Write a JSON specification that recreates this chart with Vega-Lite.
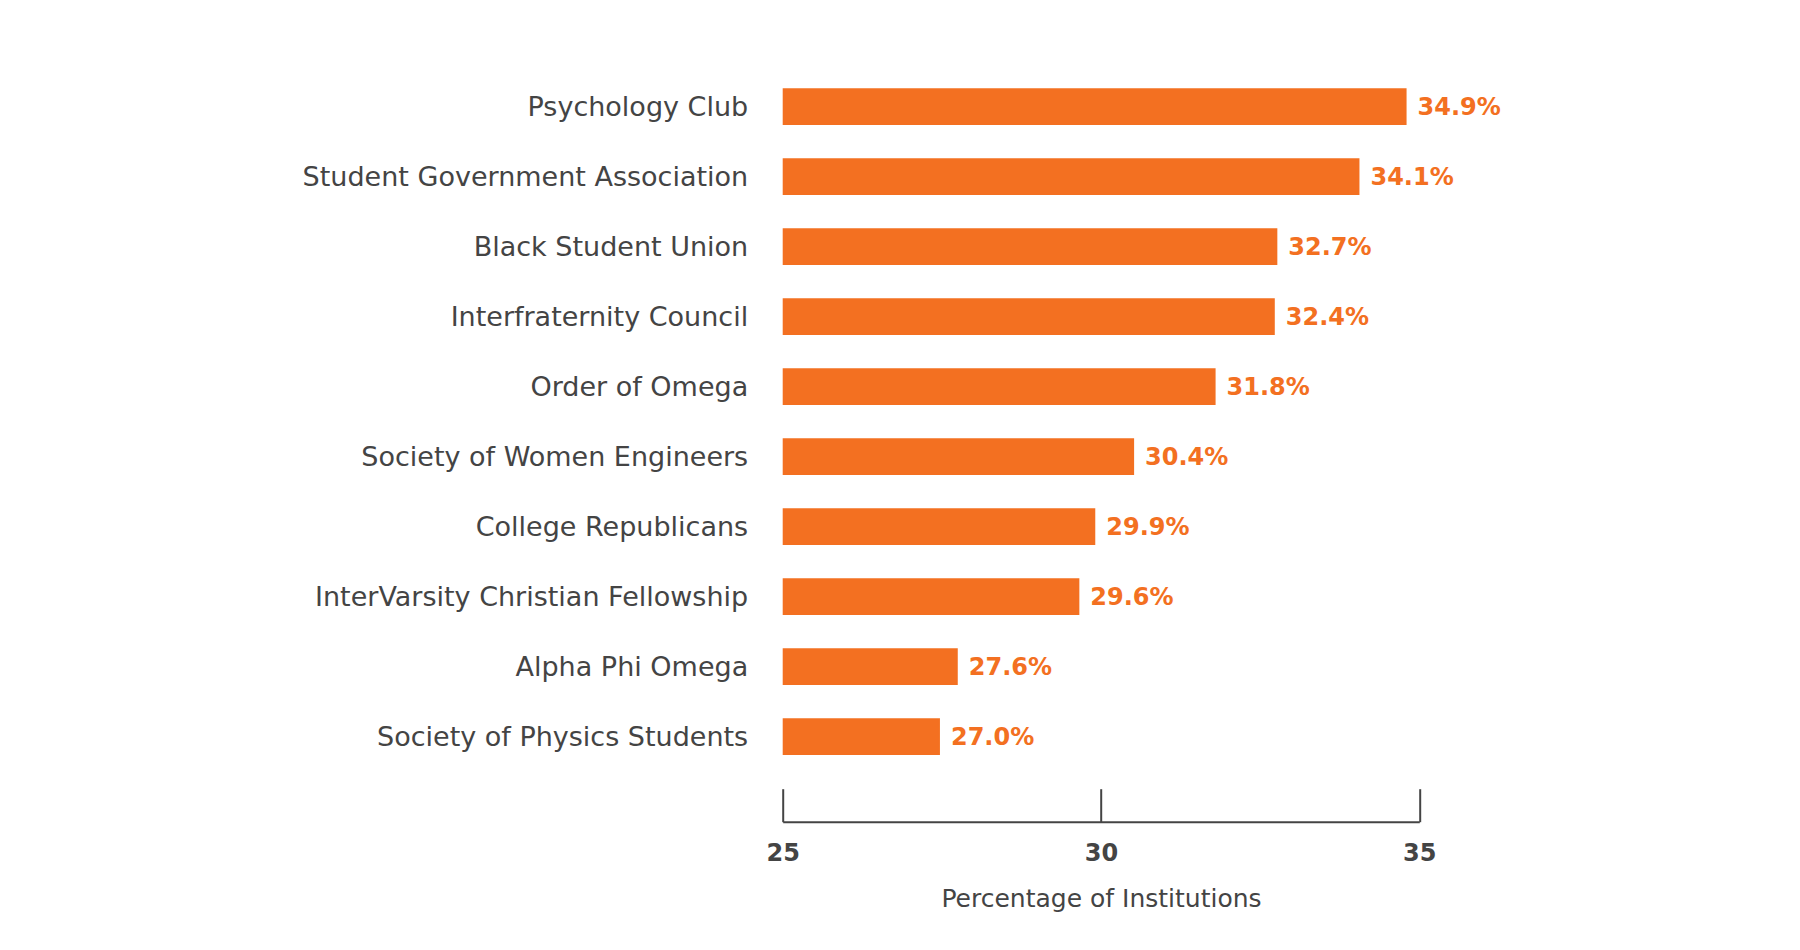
{
  "$schema": "https://vega.github.io/schema/vega-lite/v6.json",
  "autosize": "none",
  "width": 636.6,
  "height": 700,
  "padding": {"left": 782.7, "top": 71.7, "right": 380.7, "bottom": 178.3},
  "background": "white",
  "config": {"view": {"stroke": null}, "font": "DejaVu Sans"},
  "data": {"values": [
    {"org": "Psychology Club", "drawn": 34.8, "label": "34.9%"},
    {"org": "Student Government Association", "drawn": 34.06, "label": "34.1%"},
    {"org": "Black Student Union", "drawn": 32.77, "label": "32.7%"},
    {"org": "Interfraternity Council", "drawn": 32.73, "label": "32.4%"},
    {"org": "Order of Omega", "drawn": 31.8, "label": "31.8%"},
    {"org": "Society of Women Engineers", "drawn": 30.52, "label": "30.4%"},
    {"org": "College Republicans", "drawn": 29.91, "label": "29.9%"},
    {"org": "InterVarsity Christian Fellowship", "drawn": 29.66, "label": "29.6%"},
    {"org": "Alpha Phi Omega", "drawn": 27.75, "label": "27.6%"},
    {"org": "Society of Physics Students", "drawn": 27.47, "label": "27.0%"}
  ]},
  "encoding": {
    "y": {
      "field": "org", "type": "nominal", "sort": null,
      "scale": {"paddingInner": 0.476, "paddingOuter": 0.238},
      "axis": {"title": null, "domain": false, "ticks": false, "tickSize": 0, "labelPadding": 35, "labelOffset": 1.5,
               "labelFont": "DejaVu Sans", "labelFontSize": 27, "labelColor": "#444444", "labelLimit": 700}
    },
    "x": {
      "field": "drawn", "type": "quantitative",
      "scale": {"domain": [25, 35], "zero": false, "clamp": true},
      "axis": {"title": "Percentage of Institutions", "values": [25, 30, 35], "grid": false,
               "offset": 50, "tickSize": -33, "tickWidth": 2, "tickColor": "#444444",
               "domainColor": "#444444", "domainWidth": 2, "labelPadding": 53, "labelFlush": false,
               "labelFont": "DejaVu Sans", "labelFontSize": 24, "labelFontWeight": "bold", "labelColor": "#444444",
               "titleFont": "DejaVu Sans", "titleFontSize": 25, "titleFontWeight": "normal", "titleColor": "#444444", "titlePadding": 21}
    }
  },
  "layer": [
    {"mark": {"type": "bar", "color": "#F37021"}},
    {"mark": {"type": "text", "align": "left", "baseline": "middle", "dx": 11, "dy": 1.5, "font": "DejaVu Sans", "fontSize": 24, "fontWeight": "bold", "color": "#F37021"},
     "encoding": {"text": {"field": "label"}}}
  ]
}
